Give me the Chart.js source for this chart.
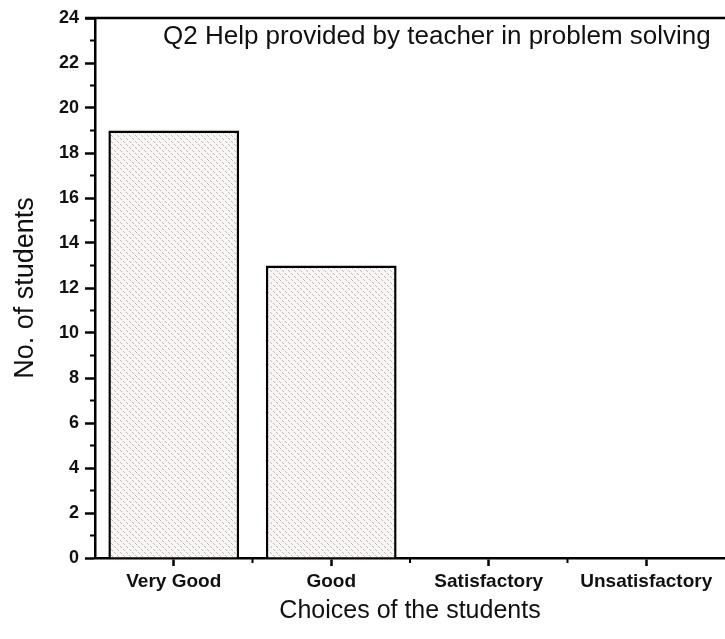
<!DOCTYPE html>
<html>
<head>
<meta charset="utf-8">
<script src="https://cdn.jsdelivr.net/npm/chart.js@4.4.1/dist/chart.umd.min.js"></script>
<style>
  html, body { margin: 0; padding: 0; background: #ffffff; }
  #wrap { width: 725px; height: 639px; }
</style>
</head>
<body>
<div id="wrap"><canvas id="c" width="725" height="639"></canvas></div>
<script>
const categories = ["Very Good", "Good", "Satisfactory", "Unsatisfactory"];
const students = [19, 13, 0, 0];
const chartTitle = "Q2 Help provided by teacher in problem solving";
const xTitle = "Choices of the students";
const yTitle = "No. of students";
const yMin = 0, yMax = 24, yStep = 2;

const FONT = "'Liberation Sans', Arial, Helvetica, sans-serif";

// dotted fill pattern
function makePattern() {
  const p = document.createElement('canvas');
  p.width = 6; p.height = 6;
  const g = p.getContext('2d');
  g.fillStyle = '#f8f5f5';
  g.fillRect(0, 0, 6, 6);
  g.fillStyle = '#cdb4b9';
  g.fillRect(0, 0, 1, 1);
  g.fillRect(1, 1, 1, 1);
  g.fillStyle = '#c2babc';
  g.fillRect(3, 3, 1, 1);
  g.fillRect(4, 4, 1, 1);
  return document.getElementById('c').getContext('2d').createPattern(p, 'repeat');
}

const framePlugin = {
  id: 'frame',
  afterDraw(chart) {
    const { ctx, chartArea, scales } = chart;
    const y = scales.y, x = scales.x;
    ctx.save();
    ctx.strokeStyle = '#000';
    ctx.lineWidth = 2.5;
    // top border
    ctx.beginPath();
    ctx.moveTo(chartArea.left - 10, chartArea.top);
    ctx.lineTo(chartArea.right, chartArea.top);
    ctx.stroke();
    // y minor ticks
    ctx.lineWidth = 2;
    for (let v = yMin + 1; v < yMax; v += yStep) {
      const py = y.getPixelForValue(v);
      ctx.beginPath();
      ctx.moveTo(chartArea.left - 5, py);
      ctx.lineTo(chartArea.left, py);
      ctx.stroke();
    }
    // x minor ticks between categories
    for (let i = 0; i < categories.length - 1; i++) {
      const px = (x.getPixelForTick(i) + x.getPixelForTick(i + 1)) / 2;
      ctx.beginPath();
      ctx.moveTo(px, chartArea.bottom);
      ctx.lineTo(px, chartArea.bottom + 5);
      ctx.stroke();
    }
    // inner title
    ctx.fillStyle = '#111';
    ctx.font = '26px ' + FONT;
    ctx.textAlign = 'left';
    ctx.textBaseline = 'middle';
    ctx.fillText(chartTitle, chartArea.left + 68, chartArea.top + 19);
    ctx.restore();
  }
};

new Chart(document.getElementById('c'), {
  type: 'bar',
  data: {
    labels: categories,
    datasets: [{
      data: students,
      backgroundColor: makePattern(),
      borderColor: '#000',
      borderWidth: 2.5,
      borderSkipped: 'start',
      categoryPercentage: 1.0,
      barPercentage: 0.83
    }]
  },
  plugins: [framePlugin],
  options: {
    responsive: false,
    animation: false,
    devicePixelRatio: 1,
    layout: { padding: { top: 18, right: 0, left: 0, bottom: 0 } },
    plugins: {
      legend: { display: false },
      tooltip: { enabled: false },
      title: { display: false }
    },
    scales: {
      x: {
        type: 'category',
        offset: true,
        grid: {
          offset: false,
          drawOnChartArea: false,
          drawTicks: true,
          tickLength: 8,
          tickColor: '#000',
          tickWidth: 2.5
        },
        border: { display: true, color: '#000', width: 2.5 },
        ticks: {
          color: '#111',
          padding: 4,
          font: { family: FONT, size: 19, weight: 'bold' },
          maxRotation: 0,
          autoSkip: false
        },
        title: {
          display: true,
          text: xTitle,
          color: '#111',
          font: { family: FONT, size: 25 },
          padding: { top: 0, bottom: 13 }
        },
        afterFit(s) { s.height = 81; }
      },
      y: {
        min: yMin,
        max: yMax,
        grid: {
          drawOnChartArea: false,
          drawTicks: true,
          tickLength: 10,
          tickColor: '#000',
          tickWidth: 2.5
        },
        border: { display: true, color: '#000', width: 2.5 },
        ticks: {
          stepSize: yStep,
          color: '#111',
          padding: 6,
          font: { family: FONT, size: 18, weight: 'bold' }
        },
        title: {
          display: true,
          text: yTitle,
          color: '#111',
          font: { family: FONT, size: 27 },
          padding: { top: 9, bottom: 0 }
        },
        afterFit(s) { s.width = 95; }
      }
    }
  }
});
</script>
</body>
</html>
